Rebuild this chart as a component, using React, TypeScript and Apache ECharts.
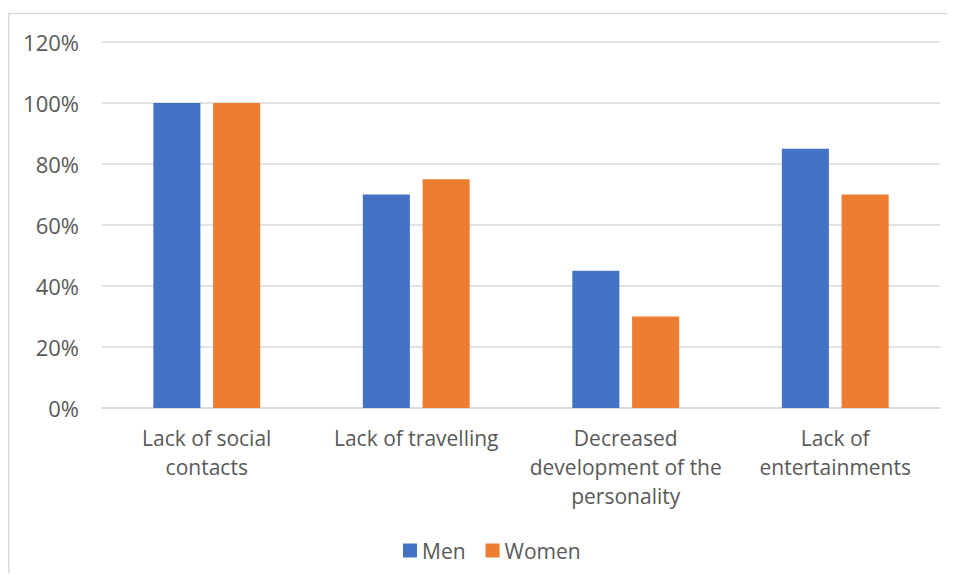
import React, { useEffect, useRef } from "react";
import * as echarts from "echarts";

const categories = [
  "Lack of social\ncontacts",
  "Lack of travelling",
  "Decreased\ndevelopment of the\npersonality",
  "Lack of\nentertainments",
];
const men = [100, 70, 45, 85];
const women = [100, 75, 30, 70];
const seriesNames = ["Men", "Women"];
const yTicks = { min: 0, max: 120, interval: 20 };

export default function App() {
  const ref = useRef<HTMLDivElement>(null);
  useEffect(() => {
    if (!ref.current) return;
    const chart = echarts.init(ref.current, undefined, { renderer: "svg" });
    const font = "'Open Sans', 'Noto Sans', sans-serif";
    chart.setOption({
      animation: false,
      textStyle: { fontFamily: font },
      graphic: [
        {
          type: "line",
          shape: { x1: 0, y1: 5.5, x2: 947, y2: 5.5 },
          style: { stroke: "#d9d9d9", lineWidth: 1.5 },
          silent: true,
        },
        {
          type: "line",
          shape: { x1: 0.75, y1: 5, x2: 0.75, y2: 573 },
          style: { stroke: "#d9d9d9", lineWidth: 1.5 },
          silent: true,
        },
      ],
      grid: { left: 94, right: 15, top: 34, bottom: 165, containLabel: false },
      legend: {
        data: seriesNames,
        top: 527,
        left: 390,
        itemWidth: 14,
        itemHeight: 14,
        itemGap: 20,
        icon: "rect",
        textStyle: { fontSize: 21, color: "#595959", fontFamily: font },
      },
      xAxis: {
        type: "category",
        data: categories,
        axisLine: { lineStyle: { color: "#d9d9d9", width: 1.5 } },
        axisTick: { show: false },
        axisLabel: {
          color: "#595959",
          fontSize: 21,
          lineHeight: 29,
          margin: 15,
          interval: 0,
          fontFamily: font,
        },
      },
      yAxis: {
        type: "value",
        min: yTicks.min,
        max: yTicks.max,
        interval: yTicks.interval,
        axisLine: { show: false },
        axisTick: { show: false },
        splitLine: { lineStyle: { color: "#d9d9d9", width: 1.5 } },
        axisLabel: {
          color: "#595959",
          fontSize: 22,
          margin: 23,
          formatter: "{value}%",
          fontFamily: font,
        },
      },
      series: [
        {
          name: seriesNames[0],
          type: "bar",
          data: men,
          itemStyle: { color: "#4472c4" },
          barGap: "27%",
          barCategoryGap: "49%",
        },
        {
          name: seriesNames[1],
          type: "bar",
          data: women,
          itemStyle: { color: "#ed7d31" },
          barGap: "27%",
          barCategoryGap: "49%",
        },
      ],
    });
    return () => chart.dispose();
  }, []);
  return <div ref={ref} style={{ width: 947, height: 565 }} />;
}
